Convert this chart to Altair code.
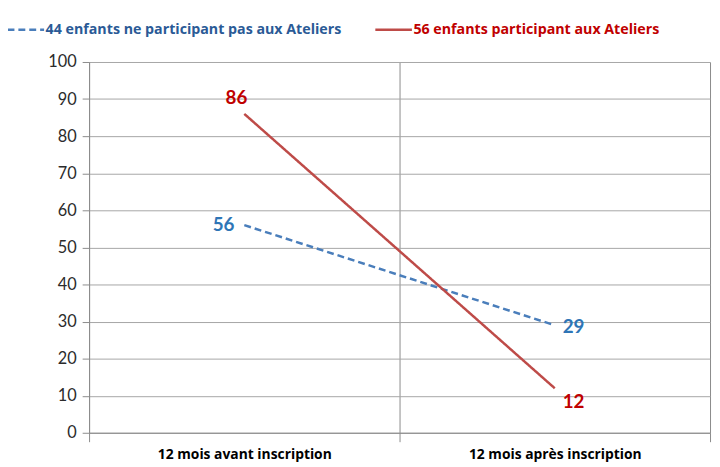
import altair as alt
import pandas as pd

categories = ["12 mois avant inscription", "12 mois après inscription"]
series = ["44 enfants ne participant pas aux Ateliers", "56 enfants participant aux Ateliers"]
non_participants = [56, 29]
participants = [86, 12]

rows = []
for cat, v in zip(categories, non_participants):
    rows.append({"serie": series[0], "periode": cat, "valeur": v})
for cat, v in zip(categories, participants):
    rows.append({"serie": series[1], "periode": cat, "valeur": v})
df = pd.DataFrame(rows)

FONT = "Lato"
TFONT = "Open Sans"
BLUE_LINE = "#4a7ebb"
RED_LINE = "#be4b48"
BLUE_TXT = "#2e75b6"
BLUE_LEG = "#2a5a96"
RED_TXT = "#c00000"

x = alt.X("periode:N", sort=categories, title=None,
          scale=alt.Scale(type="band", paddingInner=0, paddingOuter=0),
          axis=alt.Axis(tickBand="extent", labelAngle=0, labelFont=TFONT,
                        labelFontSize=14, labelFontWeight="bold", labelColor="#000000",
                        labelPadding=6, tickSize=9, tickColor="#8c8c8c",
                        domainColor="#8c8c8c", grid=True, gridColor="#8c8c8c",
                        gridWidth=1, labelLimit=300))
y = alt.Y("valeur:Q", title=None,
          scale=alt.Scale(domain=[0, 100], nice=False),
          axis=alt.Axis(values=list(range(0, 101, 10)), labelFont=FONT,
                        labelFontSize=16.5, labelColor="#2b2b2b", labelPadding=6,
                        tickSize=7, tickColor="#8c8c8c", domainColor="#8c8c8c",
                        gridColor="#a6a6a6", gridWidth=1))

base = alt.Chart(df)

leg_kw = dict(orient="none", legendX=-84, legendY=-53,
              direction="horizontal", symbolType="stroke",
              symbolSize=1369, symbolStrokeWidth=2.5,
              labelFont=TFONT, labelFontSize=14.4,
              labelFontWeight="bold", labelLimit=400,
              columnPadding=28, symbolOffset=0, labelOffset=0,
              labelColor={"expr": f"datum.value == '{series[1]}' ? '{RED_TXT}' : '{BLUE_LEG}'"})

lines = base.mark_line(strokeWidth=2.5).encode(
    x=x, y=y,
    color=alt.Color("serie:N", title=None,
                    scale=alt.Scale(domain=series, range=[BLUE_LINE, RED_LINE]),
                    legend=alt.Legend(**leg_kw)),
    strokeDash=alt.StrokeDash("serie:N", title=None,
                              scale=alt.Scale(domain=series, range=[[7, 4], [1, 0]]),
                              legend=alt.Legend(**leg_kw)),
)

def label(serie, cat, color, **kw):
    return base.transform_filter(
        (alt.datum.serie == serie) & (alt.datum.periode == cat)
    ).mark_text(font=FONT, fontSize=19, fontWeight="bold", color=color, **kw).encode(
        x=x, y=y, text="valeur:Q")

l1 = label(series[1], categories[0], RED_TXT, align="center", dx=-8, dy=-16)
l2 = label(series[0], categories[0], BLUE_TXT, align="right", dx=-10, dy=0)
l3 = label(series[0], categories[1], BLUE_TXT, align="left", dx=8, dy=2)
l4 = label(series[1], categories[1], RED_TXT, align="left", dx=8, dy=14)

chart = alt.layer(lines, l1, l2, l3, l4).properties(
    width=628, height=375,
    autosize=alt.AutoSizeParams(type="none"),
    padding={"left": 82, "top": 52, "right": 2, "bottom": 32},
).configure_view(stroke=None).configure(background="white")

chart.save("out.html", embed_options={"renderer": "svg", "actions": False})
